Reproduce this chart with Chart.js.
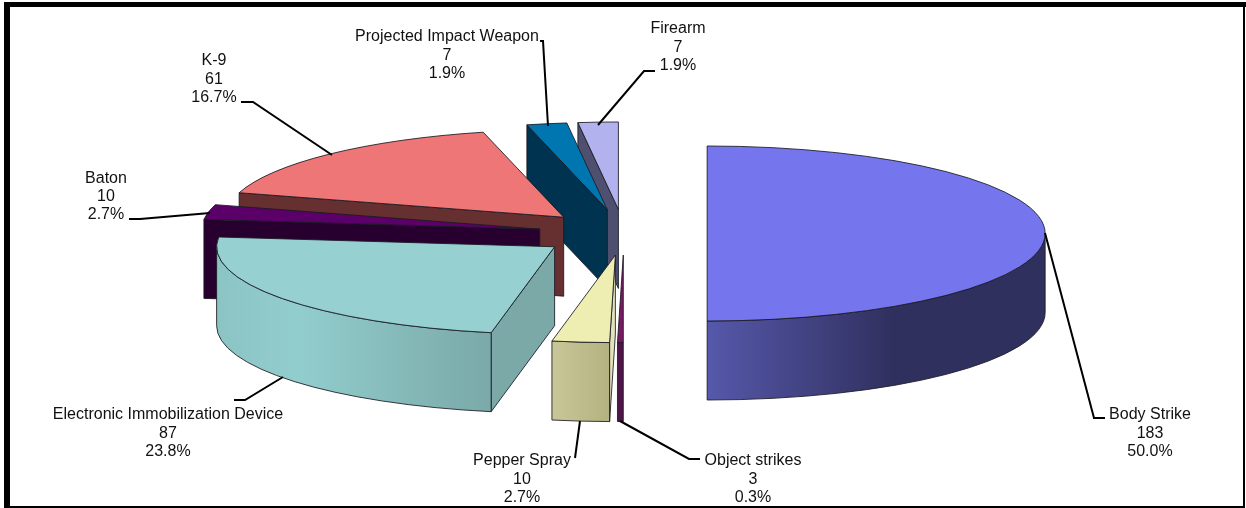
<!DOCTYPE html>
<html>
<head>
<meta charset="utf-8">
<style>html,body{margin:0;padding:0;background:#fff}canvas{display:block}</style>
<script src="https://cdn.jsdelivr.net/npm/chart.js@4/dist/chart.umd.min.js"></script>
</head>
<body>
<canvas id="c" width="1246" height="508"></canvas>
<script>
// Clockwise from 12 o'clock, as the slices sit in the picture
const categories = ['Body Strike','Object strikes','Pepper Spray','Electronic Immobilization Device','Baton','K-9','Projected Impact Weapon','Firearm'];
// Size of each slice. Object strikes is drawn as 0.3% of the pie although its label reads 3.
const sliceValues = [183,1,10,87,10,61,7,7];
const labelCounts = ['183','3','10','87','10','61','7','7'];
const labelPercents = ['50.0%','0.3%','2.7%','23.8%','2.7%','16.7%','1.9%','1.9%'];

// Styles
const topColors = ['#7575ee','#7a1a62','#eeeeb2','#96d0d0','#5a0068','#ee7676','#0076b0','#b2b2ee'];
const cutColors = ['#30305f','#4f1448','#e4e2bc','#7aa9a8','#280030','#663030','#00334f','#4f4f6f'];
const wallStops = [
  [[0,'#5658aa'],[0.55,'#30305f'],[1,'#30305f']],
  [[0,'#4f1448'],[1,'#4f1448']],
  [[0,'#c8c799'],[1,'#b4b280']],
  [[0,'#8cc4c4'],[0.3,'#92cdcd'],[1,'#7aa9a8']],
  [[0,'#280030'],[1,'#280030']],
  [[0,'#663030'],[1,'#663030']],
  [[0,'#00334f'],[1,'#00334f']],
  [[0,'#4f4f6f'],[1,'#4f4f6f']]
];
const explodeShare = [0.246,0.246,0.248,0.255,0.254,0.258,0.275,0.275];
const paintOrder = [7,6,5,4,3,2,1,0];
const RX = 338, RY = 87.5, DEPTH = 79;

// Text block centre x, first baseline y, line pitch, leader polyline
const labelBoxes = [
  {x:1150,y:419,p:18.7,l:[[1045,233],[1094,418],[1105,418]]},
  {x:753,y:465,p:18.5,l:[[620,421],[689,459],[700,459]]},
  {x:522,y:465,p:18.5,l:[[580,421],[575,458]]},
  {x:168,y:419,p:18.5,l:[[283,377],[245,400],[234,400]]},
  {x:106,y:183,p:18.2,l:[[210,213],[140,219],[129,219]]},
  {x:214,y:65,p:18.5,l:[[332,155],[253,102],[241,102]]},
  {x:447,y:41,p:18.5,l:[[548,126],[543,41],[540,41]]},
  {x:678,y:33,p:18.7,l:[[598,125],[644,71],[655,71]]}
];

const pie3d = {
  id:'pie3d',
  beforeDatasetsDraw(chart){
    const ctx = chart.ctx, arcs = chart.getDatasetMeta(0).data;
    const EDGE = 'rgba(25,25,35,0.85)';
    paintOrder.forEach(i=>{
      const arc = arcs[i], R = arc.outerRadius;
      const a = arc.startAngle, b = arc.endAngle, mid = (a+b)/2;
      const cx = arc.x + Math.cos(mid)*explodeShare[i]*RX;
      const cy = arc.y + Math.sin(mid)*explodeShare[i]*RY;
      const px = t=>cx+Math.cos(t)*RX, py = t=>cy+Math.sin(t)*RY;
      ctx.save();
      ctx.lineWidth = 1; ctx.strokeStyle = EDGE; ctx.lineJoin='round';
      // cut faces that look toward the viewer
      [[a,Math.cos(a)<-1e-6],[b,Math.cos(b)>1e-6]].forEach(([t,show])=>{
        if(!show) return;
        ctx.beginPath();
        ctx.moveTo(cx,cy); ctx.lineTo(px(t),py(t));
        ctx.lineTo(px(t),py(t)+DEPTH); ctx.lineTo(cx,cy+DEPTH); ctx.closePath();
        ctx.fillStyle = cutColors[i]; ctx.fill(); ctx.stroke();
      });
      // outer wall: only the part on the near half of the rim
      [[a,b],[a-2*Math.PI,b-2*Math.PI],[a+2*Math.PI,b+2*Math.PI]].forEach(([s,e])=>{
        const u0 = Math.max(s,0), u1 = Math.min(e,Math.PI);
        if(u1<=u0) return;
        const x0 = Math.min(px(u0),px(u1)), x1 = Math.max(px(u0),px(u1));
        const g = ctx.createLinearGradient(x0,0,x1,0);
        wallStops[i].forEach(([o,c])=>g.addColorStop(o,c));
        ctx.beginPath();
        ctx.ellipse(cx,cy,RX,RY,0,u0,u1,false);
        ctx.ellipse(cx,cy+DEPTH,RX,RY,0,u1,u0,true);
        ctx.closePath();
        ctx.fillStyle = g; ctx.fill(); ctx.stroke();
      });
      // top face: the library's own arc, squashed into perspective
      ctx.save();
      ctx.translate(cx,cy);
      ctx.scale(RX/R,RY/R);
      ctx.translate(-arc.x,-arc.y);
      arc.draw(ctx);
      ctx.restore();
      ctx.beginPath();
      ctx.moveTo(cx,cy);
      ctx.ellipse(cx,cy,RX,RY,0,a,b,false);
      ctx.closePath();
      ctx.stroke();
      ctx.restore();
    });
    return false;
  },
  afterDraw(chart){
    const ctx = chart.ctx;
    ctx.save();
    // leaders
    ctx.strokeStyle='#000'; ctx.lineWidth=2; ctx.lineJoin='miter';
    labelBoxes.forEach(b=>{
      ctx.beginPath();
      b.l.forEach((p,k)=>k?ctx.lineTo(p[0],p[1]):ctx.moveTo(p[0],p[1]));
      ctx.stroke();
    });
    // labels
    ctx.fillStyle='#111'; ctx.font='16px "Liberation Sans", Arial, sans-serif';
    ctx.textAlign='center'; ctx.textBaseline='alphabetic';
    categories.forEach((name,i)=>{
      const b = labelBoxes[i];
      [name,labelCounts[i],labelPercents[i]].forEach((t,k)=>ctx.fillText(t,b.x,b.y+k*b.p));
    });
    // frame
    ctx.fillStyle='#000';
    ctx.fillRect(4,2,1242,5);
    ctx.fillRect(4,2,6,506);
    ctx.fillRect(1243,2,2,506);
    ctx.fillRect(4,506,1241,2);
    ctx.restore();
  }
};

new Chart(document.getElementById('c'),{
  type:'pie',
  data:{labels:categories,datasets:[{data:sliceValues,backgroundColor:topColors,borderWidth:0,hoverOffset:0}]},
  options:{
    responsive:false,animation:false,
    layout:{padding:{left:2,right:0,top:0,bottom:41}},
    plugins:{legend:{display:false},tooltip:{enabled:false}}
  },
  plugins:[pie3d]
});
</script>
</body>
</html>
